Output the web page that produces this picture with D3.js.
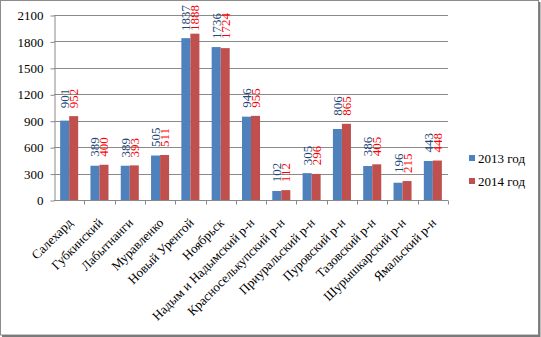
<!DOCTYPE html>
<html>
<head>
<meta charset="utf-8">
<script src="https://cdn.jsdelivr.net/npm/d3@7"></script>
<style>
  body { margin: 0; background: #fff; }
  svg { display: block; }
  svg text { font-family: "Liberation Serif", "Times New Roman", "DejaVu Serif", serif; }
</style>
</head>
<body>
<div id="chart"></div>
<script>
const categories = ["Салехард", "Губкинский", "Лабытнанги", "Муравленко", "Новый Уренгой", "Ноябрьск",
  "Надым и Надымский р-н", "Красноселькупский р-н", "Приуральский р-н", "Пуровский р-н",
  "Тазовский р-н", "Шурышкарский р-н", "Ямальский р-н"];
const series = ["2013 год", "2014 год"];
const values2013 = [901, 389, 389, 505, 1837, 1736, 946, 102, 305, 806, 386, 196, 443];
const values2014 = [952, 400, 393, 511, 1888, 1724, 955, 112, 296, 865, 405, 215, 448];
const yTicks = [0, 300, 600, 900, 1200, 1500, 1800, 2100];

const width = 541, height = 337;
const plot = { left: 54, right: 448, top: 15, bottom: 200 };
const barColors = ["#4F81BD", "#C0504D"];
const labelColors = ["#1F497D", "#FF0000"];
const fontFamily = "Liberation Serif";

const svg = d3.select("#chart").append("svg")
  .attr("width", width)
  .attr("height", height)
  .attr("font-family", fontFamily);

// outer frame with a shadow on right/bottom
svg.append("rect")
  .attr("x", 0.5).attr("y", 0.5)
  .attr("width", width - 3).attr("height", height - 2.5)
  .attr("fill", "#fff").attr("stroke", "#8c8c8c");
svg.append("path")
  .attr("d", `M${width - 1.5},2V${height - 1}H2`)
  .attr("fill", "none").attr("stroke", "#7a7a7a").attr("stroke-width", 2);

const rows = categories.map((c, i) => ({ cat: c, vals: [values2013[i], values2014[i]] }));

const x0 = d3.scaleBand().domain(categories).range([plot.left, plot.right]);
const x1 = d3.scaleBand().domain(series).range([0, x0.bandwidth()]).paddingOuter(0.68);
const y = d3.scaleLinear().domain([0, 2100]).range([plot.bottom, plot.top]);

// gridlines
svg.append("g")
  .selectAll("line")
  .data(yTicks.filter(t => t > 0))
  .join("line")
  .attr("x1", plot.left).attr("x2", plot.right)
  .attr("y1", d => Math.round(y(d)) + 0.5).attr("y2", d => Math.round(y(d)) + 0.5)
  .attr("stroke", "#8a8a8a");

// y axis
const yAxis = svg.append("g")
  .attr("transform", `translate(${plot.left + 0.5},0.5)`)
  .call(d3.axisLeft(y).tickValues(yTicks).tickFormat(d3.format("d"))
    .tickSize(4).tickPadding(7).tickSizeOuter(0));
yAxis.attr("font-family", fontFamily).attr("font-size", 13);
yAxis.select(".domain").attr("stroke", "#8a8a8a");
yAxis.selectAll(".tick line").attr("stroke", "#8a8a8a");
yAxis.selectAll(".tick text").attr("fill", "#000");

// bars
const groups = svg.append("g")
  .selectAll("g")
  .data(rows)
  .join("g")
  .attr("transform", d => `translate(${x0(d.cat)},0)`);

groups.selectAll("rect")
  .data(d => d.vals.map((v, k) => ({ s: series[k], v, k })))
  .join("rect")
  .attr("x", d => x1(d.s))
  .attr("y", d => y(d.v))
  .attr("width", x1.bandwidth())
  .attr("height", d => y(0) - y(d.v))
  .attr("fill", d => barColors[d.k]);

// value labels, rotated; both labels of a pair end at the same height
groups.selectAll("text")
  .data(d => {
    const top = Math.max(y(d3.max(d.vals)) - 8, 31);
    return d.vals.map((v, k) => ({ s: series[k], v, k, top }));
  })
  .join("text")
  .attr("transform", d => `translate(${x1(d.s) + x1.bandwidth() / 2},${d.top}) rotate(-90)`)
  .attr("dominant-baseline", "central")
  .attr("font-size", 13)
  .attr("fill", d => labelColors[d.k])
  .text(d => d.v);

// x axis
const xAxis = svg.append("g")
  .attr("transform", `translate(0,${plot.bottom + 0.5})`);
xAxis.append("line")
  .attr("x1", plot.left).attr("x2", plot.right)
  .attr("stroke", "#8a8a8a");
xAxis.selectAll("line.tick")
  .data(categories)
  .join("line")
  .attr("class", "tick")
  .attr("x1", d => Math.round(x0(d) + x0.bandwidth()) + 0.5)
  .attr("x2", d => Math.round(x0(d) + x0.bandwidth()) + 0.5)
  .attr("y1", 0).attr("y2", 4)
  .attr("stroke", "#8a8a8a");
xAxis.selectAll("text")
  .data(categories)
  .join("text")
  .attr("transform", d => `translate(${x0(d) + x0.bandwidth() / 2 + 1},${20}) rotate(-45)`)
  .attr("text-anchor", "end")
  .attr("dominant-baseline", "central")
  .attr("font-size", 13)
  .attr("fill", "#000")
  .text(d => d);

// legend
const legend = svg.append("g")
  .selectAll("g")
  .data(series)
  .join("g")
  .attr("transform", (d, i) => `translate(469,${158 + i * 23})`);
legend.append("rect")
  .attr("x", 0).attr("y", -3)
  .attr("width", 6).attr("height", 6)
  .attr("fill", (d, i) => barColors[i]);
legend.append("text")
  .attr("x", 9)
  .attr("dominant-baseline", "central")
  .attr("font-size", 13)
  .text(d => d);
</script>
</body>
</html>
